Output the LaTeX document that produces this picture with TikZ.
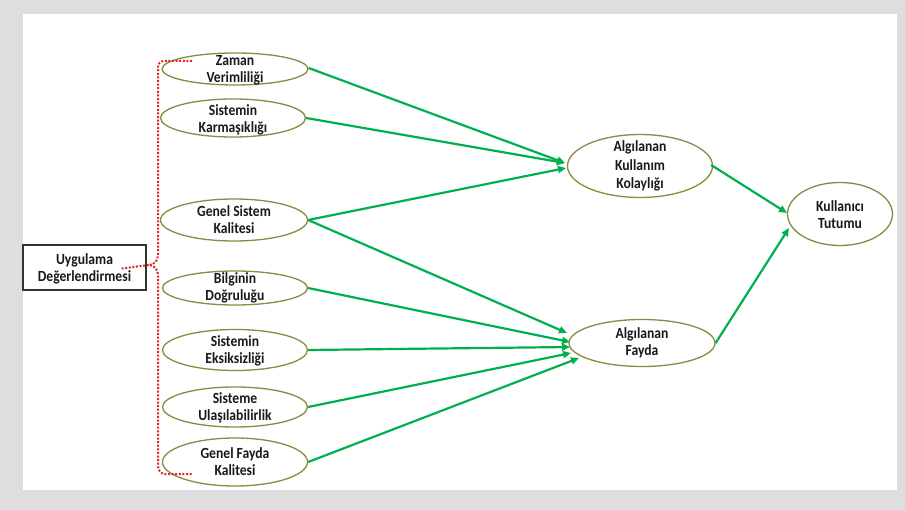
\documentclass[tikz,border=0pt]{standalone}
\usepackage{fontspec}
\setmainfont{Carlito}[FakeStretch=0.88]
\usetikzlibrary{shapes.geometric,arrows.meta,calc}
\definecolor{bgray}{HTML}{DEDEDE}
\definecolor{ovalc}{HTML}{8A8A40}
\definecolor{arrg}{HTML}{00B050}
\definecolor{dotred}{HTML}{E8202A}
\begin{document}
\begin{tikzpicture}[x=1pt,y=-1pt,
  oval/.style={ellipse,draw=ovalc,line width=1.3pt,inner sep=0pt},
  lbl/.style={font=\fontsize{15.5}{17}\selectfont\bfseries,align=center,text=black!90,inner sep=0pt},
  arr/.style={draw=arrg,line width=2.2pt,-{Triangle[length=8pt,width=7pt]}},
  reddot/.style={draw=dotred,line width=2pt,dash pattern=on 2pt off 1.6pt},
  ubox/.style={draw=black!80,line width=1.3pt,minimum width=123pt,minimum height=45pt,inner sep=0pt}]
\useasboundingbox (0,0) rectangle (905,510);
\fill[bgray] (0,0) rectangle (905,510);
\fill[white] (23,14) rectangle (897,490);

% left ellipses
\node[oval,minimum width=146pt,minimum height=32pt] (zv) at (235,69) {};
\node[lbl] at ([yshift=-1pt]zv.center) {Zaman\\Verimliliği};
\node[oval,minimum width=145pt,minimum height=38pt] (sk) at (233,118) {};
\node[lbl] at ([yshift=-2pt]sk.center) {Sistemin\\Karmaşıklığı};
\node[oval,minimum width=147pt,minimum height=42pt] (gs) at (234,220) {};
\node[lbl] at (gs) {Genel Sistem\\Kalitesi};
\node[oval,minimum width=145pt,minimum height=34pt] (bd) at (235,288) {};
\node[lbl] at (bd) {Bilginin\\Doğruluğu};
\node[oval,minimum width=145pt,minimum height=41pt] (se) at (235,350) {};
\node[lbl] at ([yshift=-1pt]se.center) {Sistemin\\Eksiksizliği};
\node[oval,minimum width=145pt,minimum height=40pt] (su) at (235,407) {};
\node[lbl] at ([yshift=-1pt]su.center) {Sisteme\\Ulaşılabilirlik};
\node[oval,minimum width=145pt,minimum height=48pt] (gf) at (235,462) {};
\node[lbl] at (gf) {Genel Fayda\\Kalitesi};

% right ellipses
\node[oval,minimum width=145pt,minimum height=63pt] (kk) at (640,166) {};
\node[lbl,font=\fontsize{15.5}{18.5}\selectfont\bfseries] at (kk) {Algılanan\\Kullanım\\Kolaylığı};
\node[oval,minimum width=146pt,minimum height=47pt] (af) at (642,343) {};
\node[lbl] at (af) {Algılanan\\Fayda};
\node[oval,minimum width=105pt,minimum height=63pt] (kt) at (840,214) {};
\node[lbl] at ([yshift=-1pt]kt.center) {Kullanıcı\\Tutumu};

% box
\node[ubox] (ud) at (84.5,267.5) {};
\node[lbl] at ([yshift=-1pt]ud.center) {Uygulama\\Değerlendirmesi};

% arrow tips
\coordinate (k1) at (565,163);
\coordinate (k3) at (566,168);
\coordinate (f1) at (567,333);
\coordinate (f2) at (570,342);
\coordinate (f3) at (570,347);
\coordinate (f4) at (571,353);
\coordinate (f5) at (579,358);
\coordinate (t1) at (787,213);
\coordinate (t2) at (789,228);

\draw[arr] ([yshift=1pt]zv.east) -- (k1);
\draw[arr] (sk.east) -- (k1);
\draw[arr] (gs.east) -- (k3);
\draw[arr] (gs.east) -- (f1);
\draw[arr] (bd.east) -- (f2);
\draw[arr] (se.east) -- (f3);
\draw[arr] (su.east) -- (f4);
\draw[arr] (gf.east) -- (f5);
\draw[arr] ([xshift=-2pt,yshift=1pt]kk.east) -- (t1);
\draw[arr] (af.east) -- (t2);

% red bracket
\coordinate (tip) at (149,265);
\draw[reddot] (192,61) -- (164,61) to[out=180,in=90] (158,67) -- (158,255)
  to[out=270,in=0] (tip) to[out=0,in=90] (158,275) -- (158,466)
  to[out=270,in=180] (165,474) -- (192,474);
\draw[reddot] ([xshift=-25pt,yshift=-1pt]ud.east) -- (tip);
\end{tikzpicture}
\end{document}
